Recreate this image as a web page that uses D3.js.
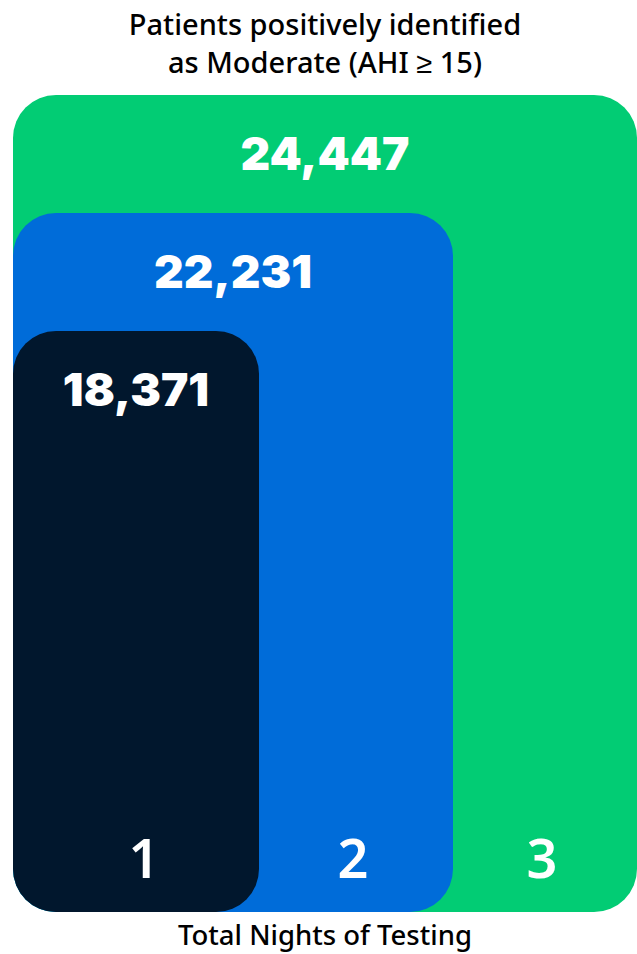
<!DOCTYPE html>
<html>
<head>
<meta charset="utf-8">
<script src="https://cdn.jsdelivr.net/npm/d3@7"></script>
<style>
  body { margin: 0; background: #fff; }
</style>
</head>
<body>
<div id="chart"></div>
<script>
// data
var nights = ["1", "2", "3"];
var patients = [18371, 22231, 24447];
var colors = ["#01172d", "#006cd9", "#02cc74"];
var title = ["Patients positively identified", "as Moderate (AHI \u2265 15)"];
var xTitle = "Total Nights of Testing";

var width = 637, height = 954;
var left = 13, bottom = 912;

var svg = d3.select("#chart")
    .append("svg")
    .attr("width", width)
    .attr("height", height);

// right edge of each nested box
var xRight = d3.scaleLinear()
    .domain([0, 1, 2])
    .range([259, 453, 637]);

// top of each box, stepped by number of nights
var yTop = d3.scalePoint()
    .domain(nights)
    .range([331, 95]);

var boxes = nights.map(function(n, i) {
    return { night: n, value: patients[i], color: colors[i], i: i };
});

// draw largest first so smaller boxes sit on top
svg.selectAll("rect.box")
    .data(boxes.slice().reverse())
    .enter()
    .append("rect")
    .attr("class", "box")
    .attr("x", left)
    .attr("y", function(d) { return yTop(d.night); })
    .attr("width", function(d) { return xRight(d.i) - left; })
    .attr("height", function(d) { return bottom - yTop(d.night); })
    .attr("rx", 43)
    .attr("ry", 43)
    .style("fill", function(d) { return d.color; });

// value labels
svg.selectAll("text.value")
    .data(boxes)
    .enter()
    .append("text")
    .attr("class", "value")
    .attr("x", function(d) { return (left + xRight(d.i)) / 2; })
    .attr("y", function(d) { return yTop(d.night) + 75; })
    .attr("text-anchor", "middle")
    .style("font-family", "Inter, 'Open Sans', sans-serif")
    .style("font-weight", 900)
    .style("font-size", "46px")
    .style("fill", "#fff")
    .text(function(d) { return d3.format(",")(d.value); });

// night labels, centred in the visible strip of each box
svg.selectAll("text.night")
    .data(boxes)
    .enter()
    .append("text")
    .attr("class", "night")
    .attr("x", function(d) {
        var l = d.i === 0 ? left : xRight(d.i - 1);
        return (l + xRight(d.i)) / 2 + (d.i === 0 ? 8 : -3);
    })
    .attr("y", 878)
    .attr("text-anchor", "middle")
    .style("font-family", "'Noto Sans', sans-serif")
    .style("font-weight", 600)
    .style("font-size", "54px")
    .style("fill", "#fff")
    .text(function(d) { return d.night; });

// title
svg.selectAll("text.title")
    .data(title)
    .enter()
    .append("text")
    .attr("class", "title")
    .attr("x", 325)
    .attr("y", function(d, i) { return 35 + i * 38; })
    .attr("text-anchor", "middle")
    .style("font-family", "'Noto Sans', sans-serif")
    .style("font-weight", 500)
    .style("font-size", "29px")
    .style("fill", "#000")
    .text(function(d) { return d; });

svg.append("text")
    .attr("x", 325)
    .attr("y", 945)
    .attr("text-anchor", "middle")
    .style("font-family", "'Noto Sans', sans-serif")
    .style("font-weight", 500)
    .style("font-size", "27.5px")
    .style("fill", "#000")
    .text(xTitle);
</script>
</body>
</html>
